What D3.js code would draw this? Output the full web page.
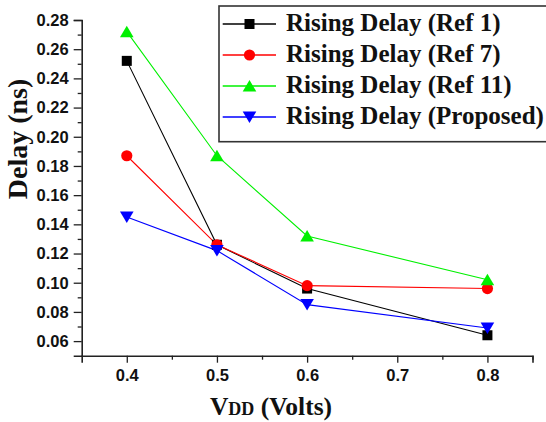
<!DOCTYPE html>
<html><head><meta charset="utf-8">
<script src="https://cdn.jsdelivr.net/npm/d3@7"></script>
<style>
html,body{margin:0;padding:0;background:#fff;}
svg{display:block;}
</style></head>
<body>
<script>
const vdd = [0.4, 0.5, 0.6, 0.8];
const ref1 = [0.252, 0.126, 0.096, 0.064];
const ref7 = [0.187, 0.126, 0.098, 0.096];
const ref11 = [0.272, 0.187, 0.132, 0.102];
const proposed = [0.145, 0.122, 0.085, 0.069];
const seriesNames = ["Rising Delay (Ref 1)", "Rising Delay (Ref 7)", "Rising Delay (Ref 11)", "Rising Delay (Proposed)"];
const xTicks = [0.4, 0.5, 0.6, 0.7, 0.8];
const yTicks = [0.06, 0.08, 0.10, 0.12, 0.14, 0.16, 0.18, 0.20, 0.22, 0.24, 0.26, 0.28];

const W = 546, H = 422;
const svg = d3.select("body").append("svg").attr("width", W).attr("height", H);

const x = d3.scaleLinear().domain([0.35, 0.85]).range([81.7, 532.5]);
const y = d3.scaleLinear().domain([0.05, 0.28]).range([355.7, 20]);

const series = [
  {name: seriesNames[0], vals: ref1, color: "#000000", shape: "square"},
  {name: seriesNames[1], vals: ref7, color: "#ff0000", shape: "circle"},
  {name: seriesNames[2], vals: ref11, color: "#00f000", shape: "up"},
  {name: seriesNames[3], vals: proposed, color: "#0000ff", shape: "down"}
];

function marker(g, shape, color) {
  if (shape === "square") {
    g.append("rect").attr("x", -5).attr("y", -5).attr("width", 10).attr("height", 10).attr("fill", color);
  } else if (shape === "circle") {
    g.append("circle").attr("r", 5.6).attr("fill", color);
  } else if (shape === "up") {
    g.append("path").attr("d", "M0,-6 L6.8,5.5 L-6.8,5.5 Z").attr("fill", color);
  } else {
    g.append("path").attr("d", "M0,6 L6.8,-5.5 L-6.8,-5.5 Z").attr("fill", color);
  }
}

// axes
const minorY = d3.range(0.07, 0.275, 0.02);
const minorX = [0.45, 0.55, 0.65, 0.75, 0.85];

const yAxis = svg.append("g").attr("transform", "translate(81.7,0)")
  .call(d3.axisLeft(y).tickValues(yTicks).tickFormat(d3.format(".2f")).tickSize(8).tickPadding(5));
const yMinor = svg.append("g").attr("transform", "translate(81.7,0)")
  .call(d3.axisLeft(y).tickValues(minorY).tickFormat("").tickSize(4));
const xAxis = svg.append("g").attr("transform", "translate(0,355.7)")
  .call(d3.axisBottom(x).tickValues(xTicks).tickFormat(d3.format(".1f")).tickSize(7).tickPadding(7));
const xMinor = svg.append("g").attr("transform", "translate(0,355.7)")
  .call(d3.axisBottom(x).tickValues(minorX).tickFormat("").tickSize(4));

svg.selectAll(".domain").attr("stroke", "#222").attr("stroke-width", 1.6);
svg.selectAll(".tick line").attr("stroke", "#222").attr("stroke-width", 1.3);
[yAxis, xAxis].forEach(a => a.selectAll("text")
  .attr("font-family", "'Liberation Sans', Arial, sans-serif")
  .attr("font-weight", "bold").attr("font-size", 16.5).attr("fill", "#111"));
yMinor.select(".domain").remove();
xMinor.select(".domain").remove();

// lines and markers
const line = d3.line().x((d, i) => x(vdd[i])).y(d => y(d));
series.forEach(s => {
  svg.append("path").attr("d", line(s.vals)).attr("fill", "none")
    .attr("stroke", s.color).attr("stroke-width", 1.1);
});
series.forEach(s => {
  s.vals.forEach((v, i) => {
    const g = svg.append("g").attr("transform", `translate(${x(vdd[i])},${y(v)})`);
    marker(g, s.shape, s.color);
  });
});

// axis labels
svg.append("text").attr("transform", "translate(27,139) rotate(-90)")
  .attr("text-anchor", "middle")
  .attr("font-family", "'Liberation Serif', 'Times New Roman', serif")
  .attr("font-weight", "bold").attr("font-size", 28).attr("fill", "#111")
  .text("Delay (ns)");

const xl = svg.append("text").attr("x", 271).attr("y", 415)
  .attr("text-anchor", "middle")
  .attr("font-family", "'Liberation Serif', 'Times New Roman', serif")
  .attr("font-weight", "bold").attr("font-size", 25.5).attr("fill", "#111");
xl.append("tspan").text("V");
xl.append("tspan").attr("font-size", 18).text("DD");
xl.append("tspan").text(" (Volts)");

// legend
const lg = svg.append("g");
lg.append("rect").attr("x", 219).attr("y", 6).attr("width", 360).attr("height", 135.7)
  .attr("fill", "#fff").attr("stroke", "#333").attr("stroke-width", 1.6);
const rowY = [24, 55, 86, 117];
series.forEach((s, i) => {
  const r = lg.append("g").attr("transform", `translate(0,${rowY[i]})`);
  r.append("line").attr("x1", 222.7).attr("x2", 276).attr("y1", 0).attr("y2", 0)
    .attr("stroke", s.color).attr("stroke-width", 1.3);
  const m = r.append("g").attr("transform", "translate(249.5,0)");
  marker(m, s.shape, s.color);
  r.append("text").attr("x", 286).attr("y", 7)
    .attr("font-family", "'Liberation Serif', 'Times New Roman', serif")
    .attr("font-weight", "bold").attr("font-size", 25).attr("fill", "#111")
    .text(s.name);
});
</script>
</body></html>
